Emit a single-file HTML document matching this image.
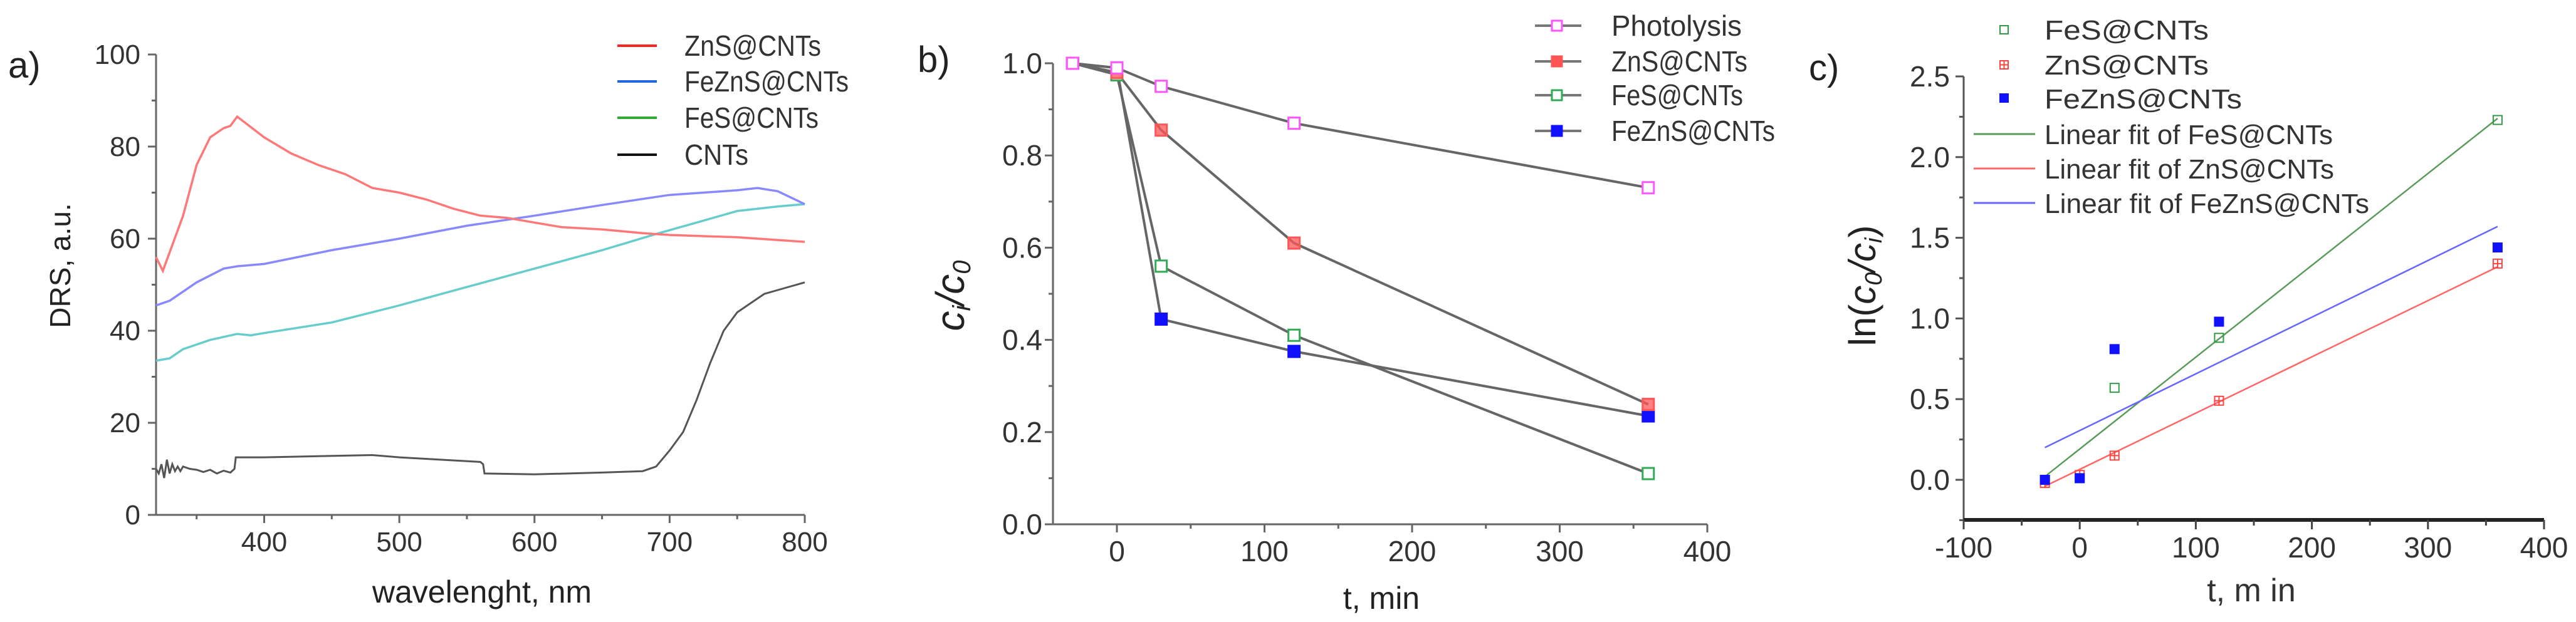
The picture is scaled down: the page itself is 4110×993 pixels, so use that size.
<!DOCTYPE html>
<html><head><meta charset="utf-8"><style>
html,body{margin:0;padding:0;background:#fff;}
svg{display:block;font-family:"Liberation Sans",sans-serif;}
</style></head><body>
<svg id="fig" xmlns="http://www.w3.org/2000/svg" width="4110" height="993" viewBox="0 0 4110 993"></svg>
<script>
// ---------- Panel a data ----------
const aZnSX=[320,325,330,340,350,360,370,375,380,400,420,440,460,480,500,520,540,560,580,600,620,650,680,700,750,800];
const aZnSY=[56,53,57,65,76,82,84,84.5,86.5,82,78.5,76,74,71,70,68.5,66.5,65,64.5,63.5,62.5,62,61.2,60.8,60.3,59.3];
const aFeZnSX=[320,330,350,370,380,400,450,500,550,600,650,700,750,765,780,800];
const aFeZnSY=[45.5,46.5,50.5,53.5,54,54.5,57.5,60,62.8,65,67.3,69.5,70.5,71,70.3,67.5];
const aFeSX=[320,330,340,360,380,390,400,450,500,550,600,650,690,720,750,780,800];
const aFeSY=[33.5,34,36,38,39.3,39,39.5,41.8,45.5,49.5,53.5,57.5,61,63.5,66,67,67.5];
const aCNTX=[320,322,324,326,328,330,332,334,336,338,340,345,350,355,360,365,370,375,378,379,380,400,480,500,560,562,563,600,650,680,690,700,710,720,730,740,750,770,800];
const aCNTY=[10,9,11,8,12,9,11,9.5,10.5,9.5,10.5,10,9.8,9.3,9.8,9,9.6,9.2,10,12.5,12.5,12.5,13,12.5,11.5,11,9,8.8,9.2,9.5,10.5,14,18,25,33,40,44,48,50.5];
const aXTicks=[400,500,600,700,800];
const aYTicks=[0,20,40,60,80,100];
// ---------- Panel b data ----------
const bT=[-30,0,30,120,360];
const bPhoto=[1.0,0.99,0.95,0.87,0.73];
const bZnS=[1.0,0.98,0.855,0.61,0.26];
const bFeS=[1.0,0.975,0.56,0.41,0.11];
const bFeZnS=[1.0,0.99,0.445,0.375,0.235];
const bXTicks=[0,100,200,300,400];
const bYTicks=[0.0,0.2,0.4,0.6,0.8,1.0];
// ---------- Panel c data ----------
const cT=[-30,0,30,120,360];
const cFeS=[0,0.01,0.57,0.88,2.23];
const cZnS=[-0.02,0.03,0.15,0.49,1.34];
const cFeZnS=[0,0.01,0.81,0.98,1.44];
const cFitT=[-30,360];
const cFitFeS=[0.02,2.24];
const cFitZnS=[-0.04,1.32];
const cFitFeZnS=[0.20,1.57];
const cXTicks=[-100,0,100,200,300,400];
const cYTicks=[0.0,0.5,1.0,1.5,2.0,2.5];

const NS="http://www.w3.org/2000/svg";
const svg=document.getElementById('fig');
function mk(tag,attrs,parent){const e=document.createElementNS(NS,tag);for(const k in attrs)e.setAttribute(k,attrs[k]);(parent||svg).appendChild(e);return e;}
function lin(d0,d1,r0,r1){return v=>r0+(v-d0)*(r1-r0)/(d1-d0);}
function pathD(xs,ys,fx,fy){return xs.map((v,i)=>(i?'L':'M')+fx(v).toFixed(1)+','+fy(ys[i]).toFixed(1)).join(' ');}

// ================= PANEL A =================
const ax=lin(320,800,249,1284), ay=lin(0,100,822,87);
const gA=mk('g',{});


let t=mk('text',{x:13,y:124,'font-size':58,fill:'#222'},gA);t.textContent='a)';


let l=mk('line',{x1:249,y1:822,x2:249,y2:87,stroke:'#666','stroke-width':3},gA);


l=mk('line',{x1:249,y1:822,x2:1284,y2:822,stroke:'#666','stroke-width':3},gA);


for(let v=0;v<=100;v+=10){const e=mk('line',{x1:249,x2:v%20===0?236:242,y1:ay(v),y2:ay(v),stroke:'#666','stroke-width':3},gA);

}
aYTicks.forEach(v=>{const e=mk('text',{x:224,y:ay(v)+15,'text-anchor':'end','font-size':44,fill:'#333'},gA);e.textContent=v;

});
for(let v=350;v<=800;v+=50){const e=mk('line',{x1:ax(v),x2:ax(v),y1:822,y2:v%100===0?835:829,stroke:'#666','stroke-width':3},gA);

}
aXTicks.forEach(v=>{const e=mk('text',{x:ax(v),y:880,'text-anchor':'middle','font-size':44,fill:'#333'},gA);e.textContent=v;

});
t=mk('text',{x:769,y:962,'text-anchor':'middle','font-size':50,fill:'#222'},gA);t.textContent='wavelenght, nm';


t=mk('text',{x:0,y:0,'text-anchor':'middle','font-size':46,fill:'#222',transform:'translate(112,424) rotate(-90)'},gA);t.textContent='DRS, a.u.';


let p=mk('path',{d:pathD(aFeSX,aFeSY,ax,ay),fill:'none',stroke:'#66cccc','stroke-width':3.5},gA);


p=mk('path',{d:pathD(aFeZnSX,aFeZnSY,ax,ay),fill:'none',stroke:'#8888ff','stroke-width':3.5},gA);


p=mk('path',{d:pathD(aZnSX,aZnSY,ax,ay),fill:'none',stroke:'#ff7777','stroke-width':3.5},gA);


p=mk('path',{d:pathD(aCNTX,aCNTY,ax,ay),fill:'none',stroke:'#555','stroke-width':3},gA);


const aLeg=[['ZnS@CNTs','#ff2222',73,218],['FeZnS@CNTs','#2266dd',130,262],['FeS@CNTs','#33aa33',188,214],['CNTs','#111',247,102]];
aLeg.forEach(r=>{const e=mk('line',{x1:985,x2:1048,y1:r[2],y2:r[2],stroke:r[1],'stroke-width':4},gA);


const s=mk('text',{x:1092,y:r[2]+16,'font-size':46,fill:'#333',textLength:r[3],lengthAdjust:'spacingAndGlyphs'},gA);s.textContent=r[0];

});

// ================= PANEL B =================
const bx=lin(0,100,1782,2017.5), by=lin(0,1,837,101);
const gB=mk('g',{});


t=mk('text',{x:1464,y:115,'font-size':58,fill:'#222'},gB);t.textContent='b)';


l=mk('line',{x1:1680,y1:837,x2:1680,y2:101,stroke:'#666','stroke-width':3},gB);


l=mk('line',{x1:1680,y1:837,x2:2724,y2:837,stroke:'#666','stroke-width':3},gB);


for(let i=0;i<=10;i++){const v=i/10;const e=mk('line',{x1:1680,x2:i%2===0?1667:1673,y1:by(v),y2:by(v),stroke:'#666','stroke-width':3},gB);

}
bYTicks.forEach(v=>{const e=mk('text',{x:1663,y:by(v)+16,'text-anchor':'end','font-size':46,fill:'#333'},gB);e.textContent=v.toFixed(1);

});
for(let v=0;v<=400;v+=50){const e=mk('line',{x1:bx(v),x2:bx(v),y1:837,y2:v%100===0?850:844,stroke:'#666','stroke-width':3},gB);

}
bXTicks.forEach(v=>{const e=mk('text',{x:bx(v),y:896,'text-anchor':'middle','font-size':46,fill:'#333'},gB);e.textContent=v;

});
t=mk('text',{x:2204,y:972,'text-anchor':'middle','font-size':50,fill:'#222'},gB);t.textContent='t, min';


t=mk('text',{x:0,y:0,'text-anchor':'middle','font-size':64,'font-style':'italic',fill:'#222',transform:'translate(1538,472) rotate(-90)'},gB);
t.innerHTML='c<tspan font-size="40" dy="10">i</tspan><tspan dy="-10">/c</tspan><tspan font-size="40" dy="10">0</tspan>';


const bSeries=[[bFeS,'#33aa55',false,'fes'],[bFeZnS,'#1111ff',true,'fezns'],[bZnS,'#ff5555',true,'zns'],[bPhoto,'#ff55ff',false,'photolysis']];
bSeries.forEach(s=>{const e=mk('path',{d:pathD(bT,s[0],bx,by),fill:'none',stroke:'#666','stroke-width':4},gB);

});
bSeries.forEach(s=>{bT.forEach((tv,i)=>{const e=mk('rect',{x:bx(tv)-9,y:by(s[0][i])-9,width:18,height:18,fill:s[2]?s[1]:'#fff',stroke:s[1],'stroke-width':3,'fill-opacity':s[3]==='zns'?0.75:1},gB);

});});
const bLeg=[['Photolysis','#ff55ff',false,41,208],['ZnS@CNTs','#ff5555',true,98,217],['FeS@CNTs','#33aa55',false,152,210],['FeZnS@CNTs','#1111ff',true,209,261]];
bLeg.forEach(r=>{const e=mk('line',{x1:2449,x2:2523,y1:r[3],y2:r[3],stroke:'#777','stroke-width':4},gB);


const m=mk('rect',{x:2476,y:r[3]-8,width:16,height:16,fill:r[2]?r[1]:'#fff',stroke:r[1],'stroke-width':3},gB);


const s=mk('text',{x:2571,y:r[3]+16,'font-size':46,fill:'#333',textLength:r[4],lengthAdjust:'spacingAndGlyphs'},gB);s.textContent=r[0];

});

// ================= PANEL C =================
const cx=lin(-100,400,3133,4059), cy=lin(0,2.5,766,122);
const gC=mk('g',{});


t=mk('text',{x:2886,y:128,'font-size':58,fill:'#222'},gC);t.textContent='c)';


l=mk('line',{x1:3133,y1:830,x2:3133,y2:122,stroke:'#555','stroke-width':3},gC);


l=mk('line',{x1:3133,y1:830,x2:4059,y2:830,stroke:'#222','stroke-width':6},gC);


for(let i=-1;i<=10;i++){const v=i*0.25;const e=mk('line',{x1:3133,x2:i%2===0?3120:3126,y1:cy(v),y2:cy(v),stroke:'#555','stroke-width':3},gC);

}
cYTicks.forEach(v=>{const e=mk('text',{x:3111,y:cy(v)+16,'text-anchor':'end','font-size':46,fill:'#333'},gC);e.textContent=v.toFixed(1);

});
for(let v=-100;v<=400;v+=50){const e=mk('line',{x1:cx(v),x2:cx(v),y1:830,y2:v%100===0?845:839,stroke:'#444','stroke-width':3},gC);

}
cXTicks.forEach(v=>{const e=mk('text',{x:cx(v),y:890,'text-anchor':'middle','font-size':46,fill:'#333'},gC);e.textContent=v;

});
t=mk('text',{x:3592,y:960,'text-anchor':'middle','font-size':52,fill:'#333'},gC);t.textContent='t, m in';


t=mk('text',{x:0,y:0,'text-anchor':'middle','font-size':60,fill:'#222',transform:'translate(2992,456) rotate(-90)'},gC);
t.innerHTML='ln(<tspan font-style="italic">c</tspan><tspan font-size="38" dy="10" font-style="italic">0</tspan><tspan dy="-10" font-style="italic">/c</tspan><tspan font-size="38" dy="10" font-style="italic">i</tspan><tspan dy="-10">)</tspan>';


const cFits=[[cFitFeS,'#5a9a5a','fes'],[cFitZnS,'#ff6666','zns'],[cFitFeZnS,'#6666ff','fezns']];
cFits.forEach(f=>{const e=mk('path',{d:pathD(cFitT,f[0],cx,cy),fill:'none',stroke:f[1],'stroke-width':2.5},gC);

});
cT.forEach((tv,i)=>{const e=mk('rect',{x:cx(tv)-7,y:cy(cFeS[i])-7,width:14,height:14,fill:'none',stroke:'#339944','stroke-width':2},gC);

});
cT.forEach((tv,i)=>{const g=mk('g',{},gC);


mk('rect',{x:cx(tv)-7,y:cy(cZnS[i])-7,width:14,height:14,fill:'none',stroke:'#ff4444','stroke-width':2},g);
mk('path',{d:'M'+(cx(tv)-7)+','+cy(cZnS[i])+'h14M'+cx(tv)+','+(cy(cZnS[i])-7)+'v14',stroke:'#ff4444','stroke-width':2},g);});
cT.forEach((tv,i)=>{const e=mk('rect',{x:cx(tv)-8,y:cy(cFeZnS[i])-8,width:16,height:16,fill:'#1111ff'},gC);

});
// legend c
const cLegM=[['FeS@CNTs',47,'open','#339944',262],['ZnS@CNTs',103,'cross','#ff4444',262],['FeZnS@CNTs',157,'fill','#1111ff',315]];
cLegM.forEach(r=>{let m;
if(r[2]==='fill'){m=mk('rect',{x:3190,y:r[1]-8,width:15,height:15,fill:r[3]},gC);}
else{m=mk('rect',{x:3191,y:r[1]-6,width:13,height:13,fill:'none',stroke:r[3],'stroke-width':2},gC);}


if(r[2]==='cross'){const c=mk('path',{d:'M3191,'+(r[1]+0.5)+'h13M3197.5,'+(r[1]-6)+'v13',stroke:r[3],'stroke-width':2},gC);

}
const s=mk('text',{x:3262,y:r[1]+16,'font-size':44,fill:'#333',textLength:r[4],lengthAdjust:'spacingAndGlyphs'},gC);s.textContent=r[0];

});
const cLegL=[['Linear fit of FeS@CNTs','#5a9a5a',214,460],['Linear fit of ZnS@CNTs','#ff6666',269,462],['Linear fit of FeZnS@CNTs','#6666ff',324,518]];
cLegL.forEach(r=>{const e=mk('line',{x1:3149,x2:3247,y1:r[2],y2:r[2],stroke:r[1],'stroke-width':3},gC);


const s=mk('text',{x:3262,y:r[2]+16,'font-size':44,fill:'#333',textLength:r[3],lengthAdjust:'spacingAndGlyphs'},gC);s.textContent=r[0];

});
</script>
</body></html>
